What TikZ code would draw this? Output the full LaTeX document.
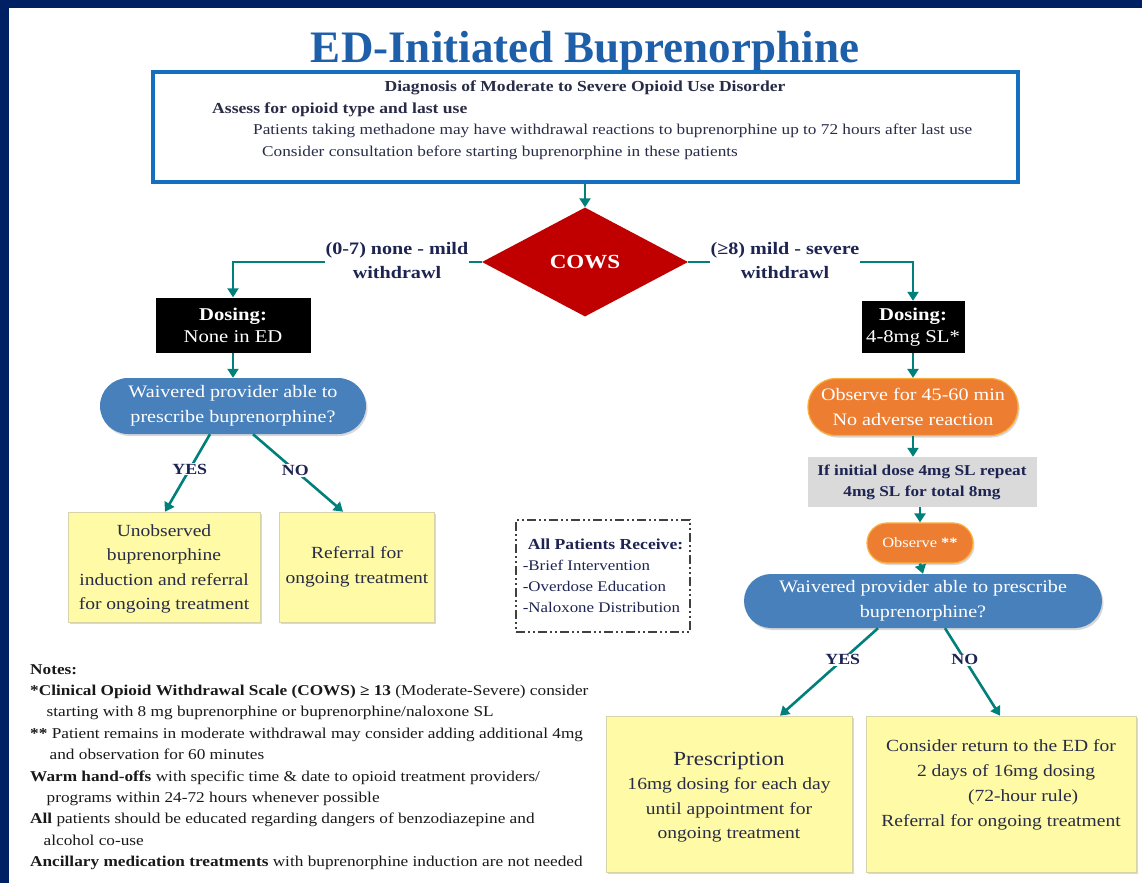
\documentclass[tikz,border=0pt]{standalone}
\usepackage{fontspec}
\setmainfont{Liberation Serif}[FakeStretch=1.15]
\newfontfamily\titlefont{Liberation Serif}
\usetikzlibrary{shapes.geometric,arrows.meta,shadows,calc}
\definecolor{navybg}{RGB}{0,32,100}
\definecolor{titleblue}{RGB}{30,95,170}
\definecolor{boxblue}{RGB}{20,112,190}
\definecolor{teal}{RGB}{0,128,122}
\definecolor{cowsred}{RGB}{192,0,0}
\definecolor{pillblue}{RGB}{72,128,188}
\definecolor{orangefill}{RGB}{237,125,49}
\definecolor{orangerim}{RGB}{250,175,60}
\definecolor{grayfill}{RGB}{218,218,218}
\definecolor{yellowfill}{RGB}{254,250,165}
\definecolor{yellowrim}{RGB}{215,212,170}
\definecolor{navytext}{RGB}{30,36,82}
\definecolor{darktext}{RGB}{40,44,70}
\newcommand{\fs}[2]{\fontsize{#1}{#2}\selectfont}
\begin{document}
\begin{tikzpicture}[x=1pt,y=-1pt,
  arr/.style={draw=teal, line width=2.6pt, -{Triangle[length=9pt,width=11pt]}},
  lbl/.style={fill=white, inner sep=1pt, text=navytext, font=\fs{17.5}{24}\bfseries, align=center},
  shade/.style={drop shadow={shadow xshift=1.5pt, shadow yshift=-2pt, opacity=0.25, fill=black!60}},
  blackbox/.style={fill=black, text=white, align=center, inner sep=2pt, font=\fs{18}{22}},
  pill/.style={fill=pillblue, text=white, align=center, font=\fs{17.5}{25}, shade},
  orangepill/.style={fill=orangefill, draw=orangerim, line width=1.2pt, text=white, align=center, shade},
  yellowbox/.style={fill=yellowfill, draw=yellowrim, line width=0.6pt, shade},
  yellowtext/.style={text=darktext, align=center, inner sep=0pt},
  toptext/.style={text=darktext, inner sep=0pt, font=\fs{15}{18}},
  notestext/.style={text=black!90, inner sep=0pt, align=left, font=\fs{15}{21.4}}
]
\fill[white] (0,0) rectangle (1142,883);
\fill[navybg] (0,0) rectangle (1142,8);
\fill[navybg] (0,0) rectangle (9,883);
\useasboundingbox (0,0) rectangle (1142,883);

% title
\node[text=titleblue, font=\titlefont\fs{45}{50}\bfseries, inner sep=0pt] (title) at (585,52) {ED-Initiated Buprenorphine};

% top box
\node[draw=boxblue, line width=4pt, minimum width=865, minimum height=110, inner sep=0pt] (top) at (585,127) {};
\node[toptext, font=\fs{15.3}{18}\bfseries] (t1) at (585,88) {Diagnosis of Moderate to Severe Opioid Use Disorder};
\node[toptext, font=\fs{15.3}{18}\bfseries, anchor=west] (t2) at (212,110) {Assess for opioid type and last use};
\node[toptext, anchor=west] (t3) at (253,131) {Patients taking methadone may have withdrawal reactions to buprenorphine up to 72 hours after last use};
\node[toptext, anchor=west] (t4) at (262,153) {Consider consultation before starting buprenorphine in these patients};

% COWS
\node[diamond, fill=cowsred, minimum width=206, minimum height=109, inner sep=0pt, text=white, font=\fs{20}{24}\bfseries] (cows) at (585,262) {COWS};

% left branch
\node[blackbox, minimum width=155, minimum height=55] (d1) at (233,325) {\textbf{Dosing:}\\None in ED};
\node[pill, minimum width=266, minimum height=56, rounded corners=28pt] (w1) at (233,406) {Waivered provider able to\\prescribe buprenorphine?};
\node[yellowbox, minimum width=192, minimum height=110] (y1) at (164,567) {};
\node[yellowtext, font=\fs{17}{24.5}] (y1t) at (164,569) {Unobserved\\buprenorphine\\induction and referral\\for ongoing treatment};
\node[yellowbox, minimum width=155, minimum height=110] (y2) at (357,567) {};
\node[yellowtext, font=\fs{17}{24.5}] (y2t) at (357,567) {Referral for\\ongoing treatment};

% right branch
\node[blackbox, minimum width=103, minimum height=52] (d2) at (913,327) {\textbf{Dosing:}\\4-8mg SL*};
\node[orangepill, minimum width=210, minimum height=57, rounded corners=28pt, font=\fs{17.5}{25}] (o1) at (913,407) {Observe for 45-60 min\\No adverse reaction};
\node[fill=grayfill, minimum width=229, minimum height=50, align=center, text=navytext, font=\fs{15}{21}\bfseries] (g1) at (922,482) {If initial dose 4mg SL repeat\\4mg SL for total 8mg};
\node[orangepill, minimum width=106, minimum height=40, rounded corners=20pt, font=\fs{14.3}{16}] (o2) at (920,543) {Observe \textbf{**}};
\node[pill, minimum width=358, minimum height=54, rounded corners=27pt] (w2) at (923,601) {Waivered provider able to prescribe\\buprenorphine?};
\node[yellowbox, minimum width=246, minimum height=156] (y3) at (729,794) {};
\node[yellowtext, font=\fs{17}{24.5}] (y3t) at (729,797) {{\fs{20}{27}Prescription}\\16mg dosing for each day\\until appointment for\\ongoing treatment};
\node[yellowbox, minimum width=270, minimum height=156] (y4) at (1001,794) {};
\node[yellowtext, font=\fs{17}{25}] (y4t) at (1001,785) {Consider return to the ED for\\\hspace*{0.6em}2 days of 16mg dosing\\\hspace*{2.6em}(72-hour rule)\\Referral for ongoing treatment};

% dashed box
\node[draw=black!75, line width=2.2pt, dash pattern=on 9pt off 3pt on 2pt off 3pt on 2pt off 3pt,
      minimum width=174, minimum height=112, align=left, text=navytext, font=\fs{14.7}{21}, inner sep=3pt] (allp) at (603,576)
  {\hspace*{5pt}{\fs{15.3}{21}\bfseries All Patients Receive:}\\-Brief Intervention\\-Overdose Education\\-Naloxone Distribution};

% notes
\node[notestext, anchor=north west] (notes) at (30,664) {\textbf{Notes:}\\
\textbf{*Clinical Opioid Withdrawal Scale (COWS) ≥ 13} (Moderate-Severe) consider\\
\hspace*{1.1em}starting with 8 mg buprenorphine or buprenorphine/naloxone SL\\
\textbf{**} Patient remains in moderate withdrawal may consider adding additional 4mg\\
\hspace*{1.3em}and observation for 60 minutes\\
\textbf{Warm hand-offs} with specific time \& date to opioid treatment providers/\\
\hspace*{1.1em}programs within 24-72 hours whenever possible\\
\textbf{All} patients should be educated regarding dangers of benzodiazepine and\\
\hspace*{0.9em}alcohol co-use\\
\textbf{Ancillary medication treatments} with buprenorphine induction are not needed};

% connectors
\draw[arr] (top.south) -- (cows.north);
\draw[arr] (cows.west) -| (d1.north);
\draw[arr] (cows.east) -| (d2.north);
\node[lbl] (lab1) at (397,261) {(0-7) none - mild\\withdrawl};
\node[lbl] (lab2) at (785,261) {(≥8) mild - severe\\withdrawl};
\draw[arr] (d1.south) -- (w1.north);
\draw[arr] ($(w1.south)+(-23,0)$) -- node[lbl, pos=0.45, font=\fs{15.5}{20}\bfseries] (yes1) {YES} ($(y1.north)+(1,0)$);
\draw[arr] ($(w1.south)+(20,0)$) -- node[lbl, pos=0.47, font=\fs{15.5}{20}\bfseries] (no1) {NO} ($(y2.north)+(-14,0)$);
\draw[arr] (d2.south) -- (o1.north);
\draw[arr] (o1.south) -- (o1.south |- g1.north);
\draw[arr] (g1.south -| o2.north) -- (o2.north);
\draw[arr] (o2.south) -- (w2.north);
\draw[arr] ($(w2.south)+(-45,0)$) -- node[lbl, pos=0.36, font=\fs{15.5}{20}\bfseries] (yes2) {YES} ($(y3.north)+(51,0)$);
\draw[arr] ($(w2.south)+(22,0)$) -- node[lbl, pos=0.36, font=\fs{15.5}{20}\bfseries] (no2) {NO} ($(y4.north)+(-1,0)$);
\end{tikzpicture}
\end{document}
